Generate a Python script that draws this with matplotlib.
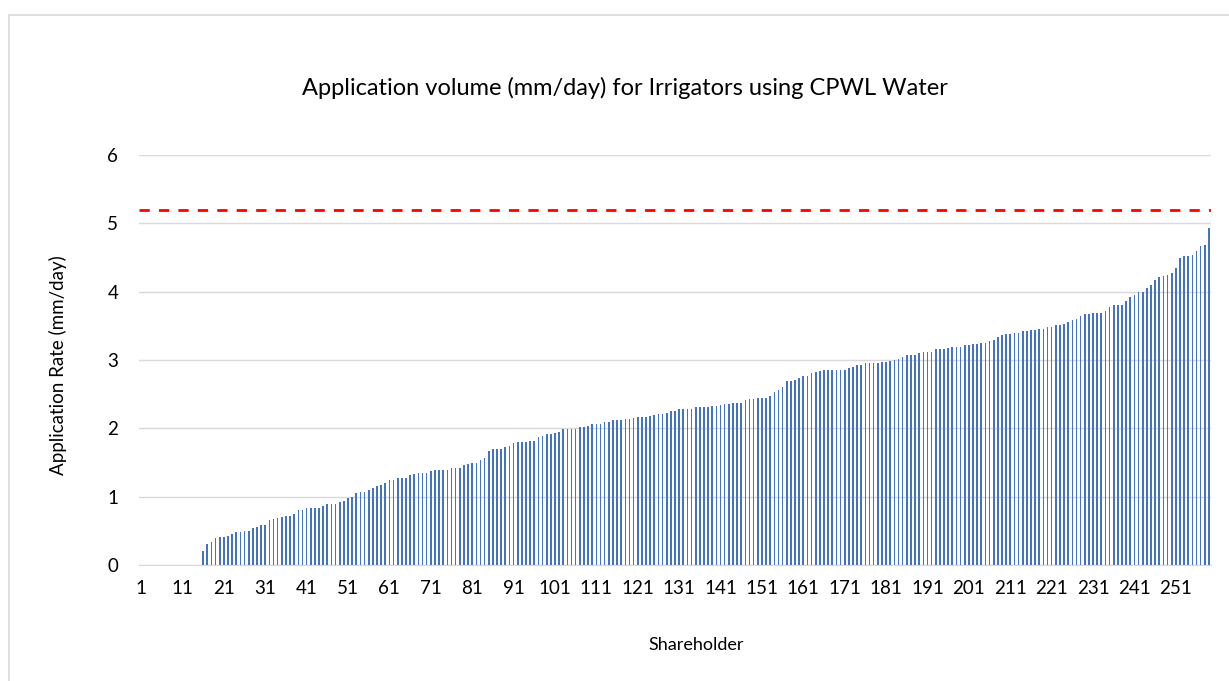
import numpy as np
import matplotlib.pyplot as plt
from matplotlib.patches import Rectangle

# shareholders 1..15 have no application, rest read off the chart (sorted)
zero_rates = [0.0] * 15
rates = [
    0.20, 0.31, 0.34, 0.40, 0.41, 0.41, 0.43, 0.45, 0.48, 0.49,
    0.50, 0.50, 0.54, 0.56, 0.58, 0.59, 0.66, 0.67, 0.69, 0.70,
    0.71, 0.72, 0.75, 0.80, 0.81, 0.83, 0.84, 0.84, 0.84, 0.87,
    0.90, 0.90, 0.90, 0.92, 0.94, 0.98, 1.00, 1.05, 1.07, 1.07,
    1.10, 1.12, 1.16, 1.17, 1.20, 1.25, 1.25, 1.27, 1.27, 1.28,
    1.32, 1.33, 1.35, 1.35, 1.35, 1.37, 1.39, 1.39, 1.39, 1.39,
    1.42, 1.42, 1.42, 1.46, 1.48, 1.50, 1.50, 1.54, 1.56, 1.67,
    1.70, 1.70, 1.70, 1.72, 1.74, 1.78, 1.80, 1.80, 1.80, 1.82,
    1.82, 1.87, 1.89, 1.91, 1.92, 1.93, 1.95, 1.99, 1.99, 1.99,
    1.99, 2.02, 2.02, 2.04, 2.06, 2.06, 2.07, 2.10, 2.10, 2.12,
    2.12, 2.12, 2.14, 2.14, 2.15, 2.17, 2.17, 2.17, 2.18, 2.19,
    2.21, 2.21, 2.23, 2.26, 2.26, 2.29, 2.29, 2.29, 2.29, 2.31,
    2.31, 2.31, 2.31, 2.32, 2.32, 2.34, 2.35, 2.36, 2.37, 2.37,
    2.37, 2.41, 2.43, 2.43, 2.44, 2.44, 2.44, 2.47, 2.53, 2.56,
    2.60, 2.69, 2.69, 2.71, 2.74, 2.77, 2.77, 2.81, 2.83, 2.84,
    2.85, 2.85, 2.85, 2.86, 2.86, 2.86, 2.88, 2.90, 2.93, 2.93,
    2.96, 2.96, 2.96, 2.96, 2.97, 2.97, 2.98, 3.00, 3.02, 3.04,
    3.07, 3.07, 3.08, 3.10, 3.12, 3.12, 3.12, 3.16, 3.16, 3.16,
    3.18, 3.19, 3.19, 3.19, 3.22, 3.22, 3.23, 3.23, 3.25, 3.25,
    3.28, 3.30, 3.33, 3.36, 3.38, 3.38, 3.40, 3.40, 3.43, 3.43,
    3.44, 3.44, 3.46, 3.46, 3.49, 3.49, 3.51, 3.51, 3.53, 3.55,
    3.58, 3.60, 3.65, 3.67, 3.68, 3.69, 3.69, 3.69, 3.71, 3.77,
    3.80, 3.80, 3.81, 3.87, 3.92, 3.95, 3.99, 3.99, 4.05, 4.10,
    4.17, 4.21, 4.23, 4.24, 4.27, 4.34, 4.49, 4.52, 4.52, 4.53,
    4.60, 4.67, 4.68, 4.93,
]
limit = 5.2
y_ticks = [0, 1, 2, 3, 4, 5, 6]

values = np.array(zero_rates + rates)
shareholders = np.arange(1, len(values) + 1)
x_ticks = list(range(1, len(values) + 1, 10))

plt.rcParams['font.family'] = ['Lato', 'DejaVu Sans']

fig = plt.figure(figsize=(12.29, 6.81), dpi=100)
fig.patches.append(Rectangle((9 / 1229, -0.1), 1.2, 1 - 15 / 681 + 0.1,
                             transform=fig.transFigure, fill=False,
                             edgecolor='#D9D9D9', linewidth=1.2))

ax = fig.add_axes([139 / 1229, 1 - 565 / 681, (1211 - 139) / 1229, 410 / 681])
ax.bar(shareholders, values, width=0.4, color='#4472C4', zorder=3)
ax.axhline(limit, color='#FF0000', linewidth=2.0, dashes=(3.7, 3.3), zorder=4)

ax.set_xlim(0.5, len(values) + 0.5)
ax.set_ylim(0, 6)
ax.set_yticks(y_ticks)
ax.set_xticks(x_ticks)
ax.tick_params(axis='both', length=0, labelsize=13.5, colors='#000000')
ax.tick_params(axis='x', pad=11)
ax.tick_params(axis='y', pad=15)
ax.grid(axis='y', color='#D9D9D9', linewidth=1.0, zorder=0)
for s in ['top', 'right', 'left']:
    ax.spines[s].set_visible(False)
ax.spines['bottom'].set_color('#D9D9D9')

fig.text(625 / 1229, 1 - 88 / 681, 'Application volume (mm/day) for Irrigators using CPWL Water',
         ha='center', va='center', fontsize=17)
fig.text(696 / 1229, 1 - 645 / 681, 'Shareholder', ha='center', va='center', fontsize=13)
fig.text(58 / 1229, 1 - 365 / 681, 'Application Rate (mm/day)', ha='center', va='center',
         rotation=90, fontsize=13.5)

fig.savefig('out.png', dpi=100, facecolor='white')
